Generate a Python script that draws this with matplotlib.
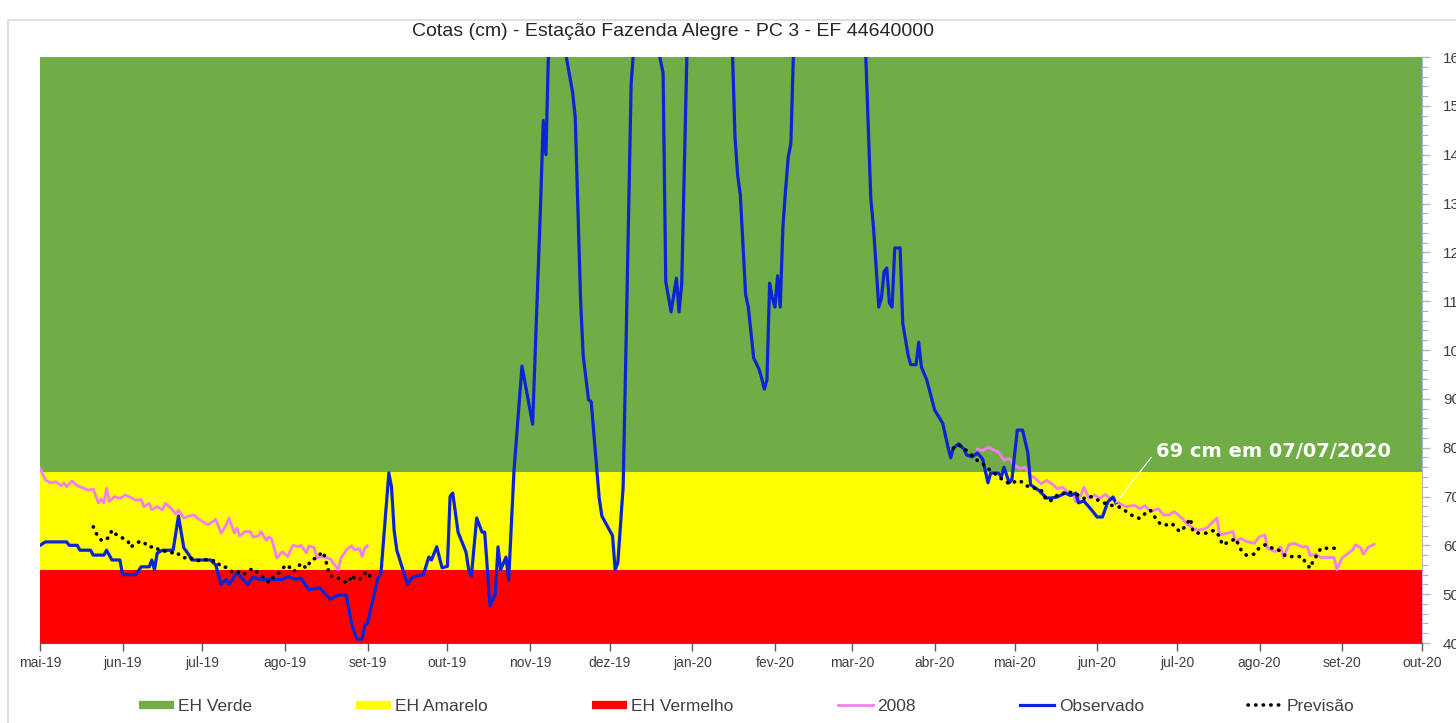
import numpy as np
import pandas as pd
import matplotlib
matplotlib.use('Agg')
import matplotlib.pyplot as plt
from matplotlib.lines import Line2D
from matplotlib.patches import Rectangle

inicio = pd.Timestamp('2019-05-01')

# faixas de estado hidrologico (cm)
niveis = [40, 55, 75, 160]
faixas = ['EH Vermelho', 'EH Amarelo', 'EH Verde']
cores_faixas = ['#FF0000', '#FFFF00', '#70AD47']

meses = ['mai-19', 'jun-19', 'jul-19', 'ago-19', 'set-19', 'out-19', 'nov-19', 'dez-19',
         'jan-20', 'fev-20', 'mar-20', 'abr-20', 'mai-20', 'jun-20', 'jul-20', 'ago-20',
         'set-20', 'out-20']

# observado (dias desde 01/05/2019, cota em cm) - acima de 160 sai do grafico
obs_dia = [0, 2, 10, 11, 14, 15, 19, 20, 24, 25, 26, 27, 30, 31, 36, 38, 41, 42, 43, 44,
           46, 50, 52, 54, 56, 57, 64, 66, 68, 70, 71, 74, 78, 80, 83, 91, 93, 96, 98, 101,
           105, 109, 112, 115, 117, 119, 121, 122, 123, 127, 128, 131, 132, 133, 134, 138, 140, 144, 146, 147,
           149, 151, 153, 154, 155, 157, 160, 161, 162, 164, 166, 167, 169, 171, 172, 173, 175, 176, 178, 181,
           185, 188, 189, 190, 191, 194, 197, 200, 201, 203, 204, 206, 207, 210, 211, 213, 215, 216, 217, 219,
           220, 222, 223, 227, 232, 234, 235, 237, 239, 240, 241, 243, 252, 260, 261, 262, 263, 265, 266, 267,
           268, 270, 271, 272, 273, 274, 275, 276, 277, 278, 279, 280, 281, 282, 283, 297, 310, 312, 313, 315,
           316, 317, 318, 319, 320, 321, 323, 324, 326, 327, 329, 330, 331, 333, 336, 339, 341, 342, 343, 345,
           347, 348, 350, 352, 354, 356, 357, 360, 361, 362, 364, 365, 367, 369, 371, 372, 375, 378, 380, 382,
           385, 387, 389, 390, 392, 395, 397, 399, 401, 403, 404]
obs_cota = [60, 60.7, 60.7, 60, 60, 59, 59, 58, 58, 59, 58, 57, 57, 54, 54, 55.6, 55.6, 57, 55, 58.4,
            59, 59, 66, 59.5, 58, 57, 57, 56, 52, 53, 52, 54.4, 52, 53.5, 53, 53, 53.6, 53, 53.3, 50.9,
            51.3, 49, 49.8, 49.8, 44, 40.8, 40.8, 43.7, 44, 53.5, 54, 74.8, 72, 63, 59, 52, 53.5, 54, 57.6, 57,
            59.7, 55.4, 55.7, 70, 70.7, 62.7, 58.6, 55, 53.7, 65.6, 62.7, 62.7, 47.6, 50, 59.7, 55, 57.6, 52.9, 75.2, 96.7,
            84.8, 130, 147, 140, 162, 185, 162, 152.8, 147.7, 110.4, 98.8, 89.8, 89.4, 69.7, 66, 64, 62, 55, 56.4, 72,
            98.8, 154.5, 162, 190, 162, 156.7, 114, 107.8, 114.7, 107.8, 113.7, 162, 200, 162, 143.6, 135.8, 131.7, 111.3, 108.8, 103.5,
            98.4, 96.1, 94.3, 92, 93.9, 113.7, 110.7, 108.8, 115.2, 108.8, 125.2, 132.8, 139.5, 142.4, 162, 200, 162, 131, 125.2, 108.8,
            110.7, 116, 116.8, 109.6, 108.8, 120.9, 120.9, 105.5, 99, 97, 97, 101.6, 96.5, 93.9, 87.7, 85, 80.1, 77.9, 79.9, 80.8,
            79.7, 78.5, 78.1, 78.9, 77.7, 72.8, 74.8, 74.8, 74, 76, 72.8, 73.5, 83.6, 83.6, 78.9, 72.4, 71.3, 69.7, 69.7, 69.9,
            70.7, 70.2, 70.7, 68.7, 69.1, 67.2, 65.8, 65.8, 68.9, 69.9, 68.7]

# ano de 2008 no mesmo dia do ano (dois trechos)
a2008_dia1 = [0, 2, 4, 6, 8, 9, 10, 12, 14, 16, 18, 20, 21, 22, 23, 24, 25, 26, 28, 30,
              32, 34, 36, 38, 39, 41, 42, 44, 46, 47, 49, 51, 52, 54, 56, 58, 59, 61, 63, 65,
              66, 68, 70, 71, 73, 74, 75, 77, 79, 80, 82, 83, 85, 86, 87, 89, 91, 93, 95, 97,
              98, 100, 101, 103, 104, 106, 108, 109, 112, 113, 115, 117, 118, 120, 121, 122, 123]
a2008_cota1 = [75.8, 73.4, 72.8, 73, 72.2, 72.8, 72, 73.2, 72.2, 71.8, 71.3, 71.5, 70, 68.7, 69.5, 68.7, 71.7, 69, 70, 69.6,
               70.3, 69.8, 69.2, 69.4, 67.9, 68.6, 67.3, 67.9, 67.3, 68.6, 67.7, 66.4, 67.2, 65.6, 66, 66.2, 65.6, 64.9, 64.2, 64.9,
               65.3, 62.5, 64.2, 65.6, 62.5, 63.5, 61.9, 62.8, 62.8, 61.7, 61.9, 62.8, 61, 61.7, 61.3, 57.4, 58.7, 57.7, 60, 59.7,
               60, 58.5, 59.9, 59.5, 57.4, 57.7, 57.4, 57.2, 55, 57.3, 59, 59.9, 59.1, 59.3, 57.7, 59.5, 59.9]
a2008_dia2 = [352, 354, 356, 358, 360, 362, 364, 366, 368, 370, 372, 374, 376, 378, 380, 382, 384, 386, 388, 389,
              391, 392, 394, 396, 398, 400, 402, 404, 406, 408, 411, 413, 415, 417, 420, 422, 424, 426, 429, 431,
              433, 435, 438, 440, 442, 443, 446, 448, 449, 451, 453, 456, 458, 460, 461, 464, 466, 467, 469, 471,
              474, 476, 477, 479, 481, 486, 487, 489, 493, 494, 496, 497, 499, 501]
a2008_cota2 = [79.7, 79.4, 80.1, 79.6, 79.1, 77.4, 77.8, 76.4, 75.7, 76, 74.3, 73.6, 72.6, 73.3, 72.6, 71.6, 71.9, 70.9, 70.3, 68.9,
               70.3, 71.9, 69.6, 70.3, 69.6, 70.4, 69.6, 69, 68.4, 67.9, 68.2, 67.5, 68.1, 66.9, 67.5, 66.2, 66.2, 66.9, 65.5, 64.3,
               63.5, 63.1, 63.5, 64.5, 65.6, 62.1, 62.5, 62.8, 60.8, 61.4, 60.8, 60.4, 61.8, 62.1, 59.4, 58.7, 59.7, 57.5, 60.1, 60.4,
               59.7, 59.7, 57.9, 58.2, 57.5, 57.5, 55, 57.4, 59.1, 60.1, 59.5, 58.2, 59.7, 60.2]

# previsao (dois trechos)
prev_dia1 = [20, 21, 23, 24, 26, 27, 29, 31, 33, 34, 36, 38, 39, 41, 43, 45, 47, 49, 51, 53,
             54, 56, 58, 60, 62, 64, 66, 68, 70, 72, 74, 76, 78, 80, 82, 84, 86, 87, 89, 91,
             93, 95, 96, 98, 100, 102, 104, 106, 107, 108, 109, 111, 113, 115, 116, 117, 118, 120, 121, 123, 125]
prev_cota1 = [63.8, 62.5, 61.1, 60.9, 61.7, 63.1, 62, 61.5, 60.9, 59.6, 60.4, 60.9, 60.6, 59.6, 59.8, 58.9, 58.8, 58.4, 58.7, 57.7,
              57.4, 57.7, 56.9, 56.9, 57.1, 56.8, 56.9, 55.6, 55.5, 54.6, 54.8, 53.9, 54.6, 55.3, 54.2, 53.5, 52.4, 53.3, 53.9, 55.3,
              56, 54.6, 54.9, 56.3, 55.3, 57.1, 57.4, 58.7, 57.7, 55.4, 53.7, 53.7, 52.9, 52.4, 52.4, 53.9, 53.3, 52.9, 53.9, 54.6, 52.5]
prev_dia2 = [343, 345, 348, 350, 352, 354, 356, 358, 360, 362, 364, 366, 368, 370, 372, 374, 376, 378, 380, 382,
             384, 386, 388, 390, 392, 394, 396, 398, 400, 402, 404, 406, 408, 411, 413, 415, 417, 419, 421, 423,
             425, 428, 430, 432, 433, 435, 438, 441, 443, 444, 447, 449, 451, 453, 456, 457, 460, 461, 465, 467,
             468, 471, 474, 475, 477, 478, 480, 481, 484, 486, 488]
prev_cota2 = [79.9, 80.6, 79.4, 78.4, 77.4, 76.7, 75.7, 75, 74, 73.3, 72.6, 73, 73.3, 72.3, 71.9, 71.6, 71.3, 69.2, 69.2, 70.3,
              70.6, 71.1, 70.6, 70.3, 69.6, 70.1, 69.7, 69, 68.6, 68.2, 68.1, 67.7, 66.9, 65.8, 65.5, 66.5, 67.2, 65.5, 64.2, 64.2,
              64.5, 62.8, 63.8, 65.5, 62.8, 62.5, 62.5, 63.1, 61.8, 60.1, 60.8, 61.4, 59.1, 58, 58.2, 59.1, 60.1, 59.7, 59.1, 58.2,
              57.7, 57.7, 57.7, 56.7, 55.3, 56.7, 58.4, 59.4, 59.4, 59.4, 59.9]


def datas(dias):
    return inicio + pd.to_timedelta(np.asarray(dias, dtype=float), unit='D')


plt.rcParams['font.family'] = ['Liberation Sans', 'DejaVu Sans']

fig = plt.figure(figsize=(14.56, 7.23), dpi=100)
ax = fig.add_axes([0.02747, 0.11065, 0.94918, 0.81051])

# moldura clara do grafico
fig.patches.append(Rectangle((8 / 1456, -0.1), 1.2, 1 - 20 / 723 + 0.1, transform=fig.transFigure,
                             fill=False, edgecolor='#D9D9D9', lw=1.2))

for i in range(3):
    ax.axhspan(niveis[i], niveis[i + 1], color=cores_faixas[i], lw=0, zorder=0)

x2008 = np.concatenate([datas(a2008_dia1), [pd.NaT], datas(a2008_dia2)])
y2008 = np.concatenate([a2008_cota1, [np.nan], a2008_cota2])
xprev = np.concatenate([datas(prev_dia1), [pd.NaT], datas(prev_dia2)])
yprev = np.concatenate([prev_cota1, [np.nan], prev_cota2])

ax.plot(pd.DatetimeIndex(x2008), y2008, color='#F27FEF', lw=2.0, zorder=3)
ax.plot(datas(obs_dia), obs_cota, color='#0A24D6', lw=2.3, zorder=4)
ax.plot(pd.DatetimeIndex(xprev), yprev, color='black', lw=2.6, ls=(0, (0.1, 2.0)),
        dash_capstyle='round', zorder=5)

ax.annotate('69 cm em 07/07/2020', xy=(datas([obs_dia[-1]])[0], obs_cota[-1]),
            xytext=(datas([419])[0], 79.2), color='white', fontsize=14, fontweight='bold',
            family='DejaVu Sans', va='center', ha='left',
            arrowprops=dict(arrowstyle='-', color='white', lw=0.8, shrinkA=2, shrinkB=0,
                            relpos=(0, 0.5)), zorder=6)

ax.set_xlim(inicio, pd.Timestamp('2020-10-01'))
ax.set_ylim(niveis[0], niveis[-1])
ticks_x = pd.date_range(inicio, '2020-10-01', freq='MS')
ax.set_xticks(ticks_x)
ax.set_xticklabels(meses, fontsize=10, color='#404040')
ax.tick_params(axis='x', direction='out', length=6, width=1, color='#595959', pad=3.5)

ax.yaxis.tick_right()
ax.set_yticks(np.arange(40, 161, 10))
ax.set_yticks(np.arange(40, 161, 2), minor=True)
ax.tick_params(axis='y', which='major', direction='out', length=6, width=1, color='#A9B8D0',
               labelsize=11, labelcolor='#404040', pad=9)
ax.tick_params(axis='y', which='minor', direction='out', length=4, width=0.8, color='#A9B8D0')

for lado in ['left', 'top']:
    ax.spines[lado].set_visible(False)
ax.spines['right'].set_color('#A9B8D0')
ax.spines['bottom'].set_color('#595959')

fig.text(0.462, 1 - 31 / 723, 'Cotas (cm) - Estação Fazenda Alegre - PC 3 - EF 44640000',
         ha='center', va='center', fontsize=14, color='#262626')

handles = [Line2D([], [], color=cores_faixas[2], lw=6, solid_capstyle='butt'),
           Line2D([], [], color=cores_faixas[1], lw=6, solid_capstyle='butt'),
           Line2D([], [], color=cores_faixas[0], lw=6, solid_capstyle='butt'),
           Line2D([], [], color='#F27FEF', lw=2.0),
           Line2D([], [], color='#0A24D6', lw=2.3),
           Line2D([], [], color='black', lw=2.6, ls=(0, (0.1, 2.0)), dash_capstyle='round')]
rotulos = [faixas[2], faixas[1], faixas[0], '2008', 'Observado', 'Previsão']
fig.legend(handles, rotulos, loc='center', bbox_to_anchor=(0.513, 1 - 706 / 723), ncol=6,
           frameon=False, fontsize=12.5, handlelength=2.0, handletextpad=0.25, columnspacing=6.0,
           labelcolor='#404040')

fig.savefig('out.png', dpi=100)
